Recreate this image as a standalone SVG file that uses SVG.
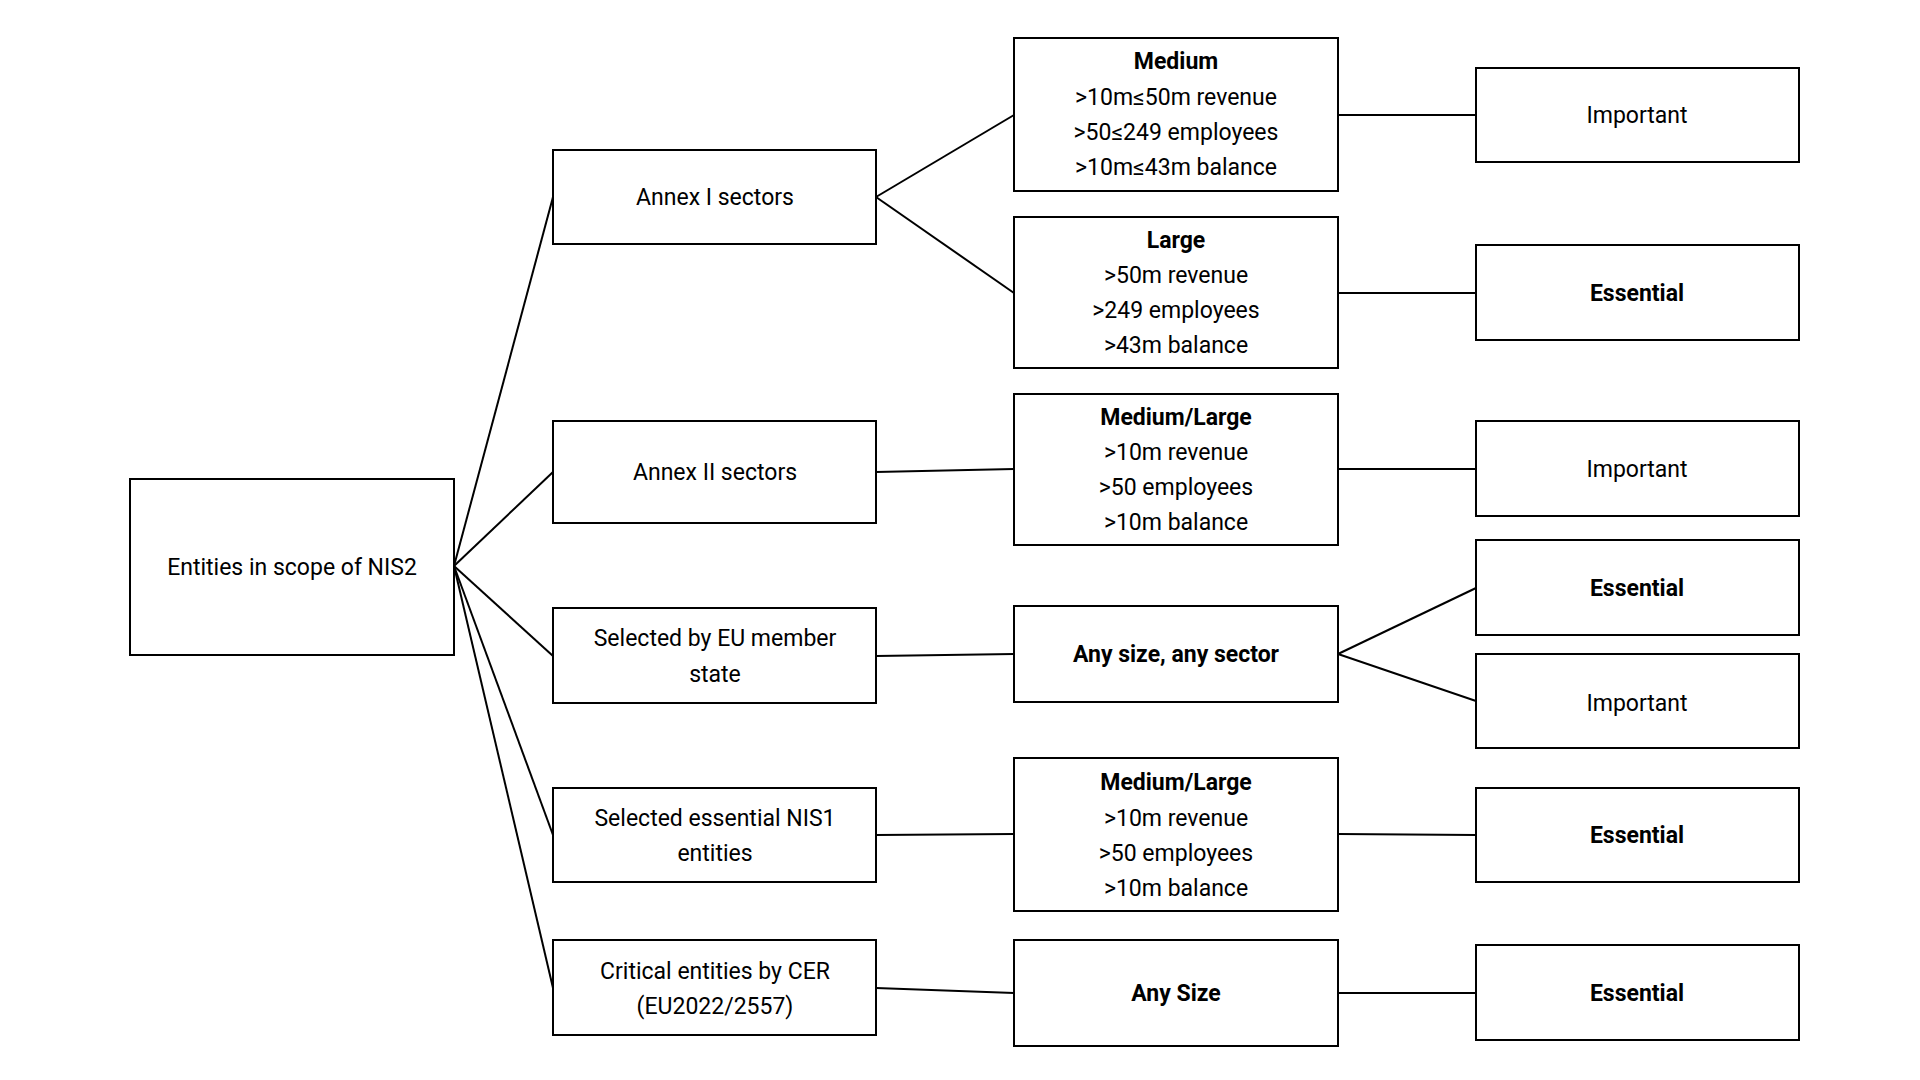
<svg xmlns="http://www.w3.org/2000/svg" width="1920" height="1080" viewBox="0 0 1920 1080">
<style>
rect{fill:#fff;stroke:#000;stroke-width:2}
text{font-family:Roboto,"Liberation Sans",sans-serif;font-size:23px;text-anchor:middle;fill:#000;dominant-baseline:central}
.b{font-weight:bold}
#connectors line{stroke:#000;stroke-width:2}
</style>
<rect x="0" y="0" width="1920" height="1080" style="stroke:none"/>
<g id="connectors">
<line x1="454" y1="566" x2="553" y2="197"/>
<line x1="454" y1="566" x2="553" y2="472"/>
<line x1="454" y1="566" x2="553" y2="656"/>
<line x1="454" y1="566" x2="553" y2="835"/>
<line x1="454" y1="566" x2="553" y2="988"/>
<line x1="876" y1="197" x2="1014" y2="115"/>
<line x1="876" y1="197" x2="1014" y2="293"/>
<line x1="876" y1="472" x2="1014" y2="469"/>
<line x1="876" y1="656" x2="1014" y2="654"/>
<line x1="876" y1="835" x2="1014" y2="834"/>
<line x1="876" y1="988" x2="1014" y2="993"/>
<line x1="1338" y1="115" x2="1476" y2="115"/>
<line x1="1338" y1="293" x2="1476" y2="293"/>
<line x1="1338" y1="469" x2="1476" y2="469"/>
<line x1="1338" y1="654" x2="1476" y2="588"/>
<line x1="1338" y1="654" x2="1476" y2="701"/>
<line x1="1338" y1="834" x2="1476" y2="835"/>
<line x1="1338" y1="993" x2="1476" y2="993"/>
</g>
<g id="root"><rect x="130" y="479" width="324" height="176"/><text x="292" y="567">Entities in scope of NIS2</text></g>
<g id="annex1"><rect x="553" y="150" width="323" height="94"/><text x="715" y="197">Annex I sectors</text></g>
<g id="annex2"><rect x="553" y="421" width="323" height="102"/><text x="715" y="472">Annex II sectors</text></g>
<g id="eu"><rect x="553" y="608" width="323" height="95"/><text x="715" y="638">Selected by EU member</text><text x="715" y="674">state</text></g>
<g id="nis1"><rect x="553" y="788" width="323" height="94"/><text x="715" y="818">Selected essential NIS1</text><text x="715" y="853">entities</text></g>
<g id="cer"><rect x="553" y="940" width="323" height="95"/><text x="715" y="971">Critical entities by CER</text><text x="715" y="1006">(EU2022/2557)</text></g>
<g id="medium"><rect x="1014" y="38" width="324" height="153"/><text class="b" x="1176" y="61">Medium</text><text x="1176" y="97">&gt;10m≤50m revenue</text><text x="1176" y="132">&gt;50≤249 employees</text><text x="1176" y="167">&gt;10m≤43m balance</text></g>
<g id="large"><rect x="1014" y="217" width="324" height="151"/><text class="b" x="1176" y="240">Large</text><text x="1176" y="275">&gt;50m revenue</text><text x="1176" y="310">&gt;249 employees</text><text x="1176" y="345">&gt;43m balance</text></g>
<g id="ml1"><rect x="1014" y="394" width="324" height="151"/><text class="b" x="1176" y="417">Medium/Large</text><text x="1176" y="452">&gt;10m revenue</text><text x="1176" y="487">&gt;50 employees</text><text x="1176" y="522">&gt;10m balance</text></g>
<g id="any"><rect x="1014" y="606" width="324" height="96"/><text class="b" x="1176" y="654">Any size, any sector</text></g>
<g id="ml2"><rect x="1014" y="758" width="324" height="153"/><text class="b" x="1176" y="782">Medium/Large</text><text x="1176" y="818">&gt;10m revenue</text><text x="1176" y="853">&gt;50 employees</text><text x="1176" y="888">&gt;10m balance</text></g>
<g id="anysize"><rect x="1014" y="940" width="324" height="106"/><text class="b" x="1176" y="993">Any Size</text></g>
<g id="r1"><rect x="1476" y="68" width="323" height="94"/><text x="1637" y="115">Important</text></g>
<g id="r2"><rect x="1476" y="245" width="323" height="95"/><text class="b" x="1637" y="293">Essential</text></g>
<g id="r3"><rect x="1476" y="421" width="323" height="95"/><text x="1637" y="469">Important</text></g>
<g id="r4"><rect x="1476" y="540" width="323" height="95"/><text class="b" x="1637" y="588">Essential</text></g>
<g id="r5"><rect x="1476" y="654" width="323" height="94"/><text x="1637" y="703">Important</text></g>
<g id="r6"><rect x="1476" y="788" width="323" height="94"/><text class="b" x="1637" y="835">Essential</text></g>
<g id="r7"><rect x="1476" y="945" width="323" height="95"/><text class="b" x="1637" y="993">Essential</text></g>
</svg>
